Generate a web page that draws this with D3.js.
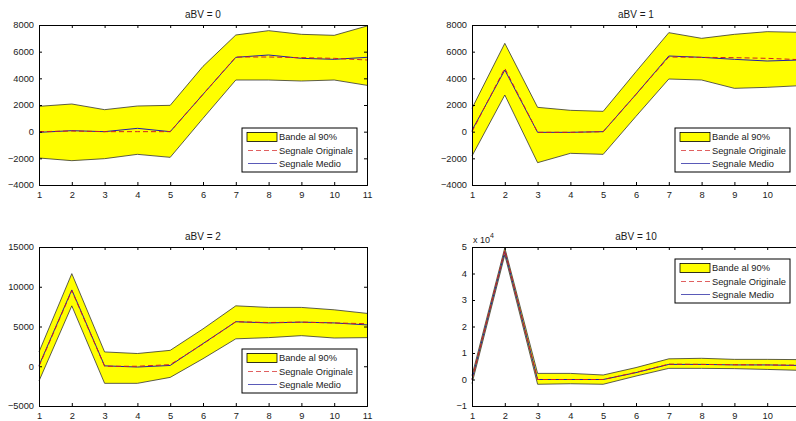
<!DOCTYPE html>
<html>
<head>
<meta charset="utf-8">
<script src="https://cdn.jsdelivr.net/npm/d3@7"></script>
<style>
  html, body { margin: 0; padding: 0; background: #fff; }
  svg { display: block; font-family: Arial, "Liberation Sans", Helvetica, sans-serif; }
</style>
</head>
<body>
<svg id="chart" width="796" height="421"></svg>
<script>
// ---- data ----
const xValues = [1, 2, 3, 4, 5, 6, 7, 8, 9, 10, 11];
const titles = ["aBV = 0", "aBV = 1", "aBV = 2", "aBV = 10"];
const legendLabels = ["Bande al 90%", "Segnale Originale", "Segnale Medio"];

const upper0 = [1900, 2075, 1650, 1925, 1975, 4900, 7250, 7575, 7300, 7225, 7925];
const mean0  = [-50, 75, 0, 250, 0, 2800, 5575, 5750, 5500, 5425, 5575];
const orig0  = [0, 50, 0, 0, 0, 2800, 5600, 5600, 5550, 5500, 5375];
const lower0 = [-1975, -2175, -2025, -1700, -1925, 1000, 3875, 3875, 3800, 3875, 3475];

const upper1 = [1750, 6625, 1825, 1600, 1525, 4500, 7425, 7000, 7300, 7500, 7450];
const mean1  = [100, 4625, -50, -50, 0, 2800, 5675, 5575, 5425, 5300, 5375];
const orig1  = [0, 4750, -50, -50, 0, 2800, 5600, 5575, 5550, 5500, 5400];
const lower1 = [-1825, 2750, -2325, -1625, -1700, 1150, 3950, 3875, 3250, 3325, 3450];

const upper2 = [1800, 11650, 1800, 1600, 2000, 4700, 7600, 7400, 7400, 7100, 6650];
const mean2  = [100, 9600, 50, -100, 100, 2850, 5600, 5450, 5550, 5450, 5200];
const orig2  = [0, 9500, 0, 0, 200, 2800, 5600, 5500, 5550, 5450, 5350];
const lower2 = [-1850, 7600, -2150, -2150, -1400, 950, 3450, 3600, 3850, 3550, 3600];

const upper10 = [1500, 49700, 2300, 2300, 1700, 4500, 7800, 8000, 7600, 7600, 7500];
const mean10  = [0, 48300, 0, 0, 0, 2600, 5700, 5700, 5500, 5500, 5300];
const orig10  = [0, 48800, 0, 0, 0, 2700, 5800, 5700, 5600, 5500, 5400];
const lower10 = [-1500, 47000, -1800, -1600, -1800, 1300, 4200, 4200, 4100, 3800, 3450];

const yTicksA = [-4000, -2000, 0, 2000, 4000, 6000, 8000];
const yTicksB = [-5000, 0, 5000, 10000, 15000];
const yTicksC = [-10000, 0, 10000, 20000, 30000, 40000, 50000];

// ---- layout ----
const panels = [
  {title: titles[0], up: upper0, mean: mean0, orig: orig0, low: lower0, ticks: yTicksA, dom: [-4000, 8000], left: 39, top: 25, h: 160, legendPos: "bottom", exp: false},
  {title: titles[1], up: upper1, mean: mean1, orig: orig1, low: lower1, ticks: yTicksA, dom: [-4000, 8000], left: 472, top: 25, h: 160, legendPos: "bottom", exp: false},
  {title: titles[2], up: upper2, mean: mean2, orig: orig2, low: lower2, ticks: yTicksB, dom: [-5000, 15000], left: 39, top: 247, h: 159, legendPos: "bottom", exp: false},
  {title: titles[3], up: upper10, mean: mean10, orig: orig10, low: lower10, ticks: yTicksC, dom: [-10000, 50000], left: 472, top: 247, h: 159, legendPos: "top", exp: true}
];
const W = 328;
const VIEW_W = 796;
const svg = d3.select("#chart");
svg.append("rect").attr("width", 796).attr("height", 421).attr("fill", "#fff");

const textColor = "#1a1a1a";
const bandColor = "#ffff00";
const origColor = "#d02020";
const meanColor = "#2020a8";

panels.forEach(p => {
  const g = svg.append("g").attr("transform", `translate(${p.left},${p.top})`);
  const x = d3.scaleLinear().domain([1, 11]).range([0, W]);
  const y = d3.scaleLinear().domain(p.dom).range([p.h, 0]);
  const pts = xValues.map((xv, i) => ({x: xv, up: p.up[i], low: p.low[i], mean: p.mean[i], orig: p.orig[i]}));

  // band
  g.append("path").datum(pts)
    .attr("d", d3.area().x(d => x(d.x)).y0(d => y(d.low)).y1(d => y(d.up)))
    .attr("fill", bandColor).attr("stroke", "none");
  g.append("path").datum(pts)
    .attr("d", d3.line().x(d => x(d.x)).y(d => y(d.up)))
    .attr("fill", "none").attr("stroke", "#333").attr("stroke-width", 0.8);
  g.append("path").datum(pts)
    .attr("d", d3.line().x(d => x(d.x)).y(d => y(d.low)))
    .attr("fill", "none").attr("stroke", "#333").attr("stroke-width", 0.8);
  // mean (solid) then original (dashed)
  g.append("path").datum(pts)
    .attr("d", d3.line().x(d => x(d.x)).y(d => y(d.mean)))
    .attr("fill", "none").attr("stroke", meanColor).attr("stroke-width", 1);
  g.append("path").datum(pts)
    .attr("d", d3.line().x(d => x(d.x)).y(d => y(d.orig)))
    .attr("fill", "none").attr("stroke", origColor).attr("stroke-width", 1)
    .attr("stroke-dasharray", "5,3");

  // axes (MATLAB box style, inward ticks)
  const tl = 3;
  const fmt = p.exp ? (d => d3.format("d")(d / 10000)) : d3.format("d");
  // labels whose position falls outside the window are not visible in the reference
  const xfmt = d => (p.left + x(d) + 4 > VIEW_W ? "" : d3.format("d")(d));
  const axB = d3.axisBottom(x).tickValues(xValues).tickSize(-tl).tickPadding(6).tickFormat(xfmt);
  const axT = d3.axisTop(x).tickValues(xValues).tickSize(-tl).tickFormat("");
  const axL = d3.axisLeft(y).tickValues(p.ticks).tickSize(-tl).tickPadding(5).tickFormat(fmt);
  const axR = d3.axisRight(y).tickValues(p.ticks).tickSize(-tl).tickFormat("");
  const style = sel => {
    sel.selectAll("path.domain").attr("stroke", "#000").attr("stroke-width", 1);
    sel.selectAll(".tick line").attr("stroke", "#000");
    sel.selectAll("text").attr("fill", textColor).attr("font-size", 9.3)
      .attr("font-family", "Arial, 'Liberation Sans', sans-serif");
  };
  g.append("g").attr("transform", `translate(0,${p.h})`).call(axB).call(style);
  g.append("g").call(axT).call(style);
  g.append("g").call(axL).call(style);
  g.append("g").attr("transform", `translate(${W},0)`).call(axR).call(style);

  // title
  g.append("text").attr("x", W / 2).attr("y", -7).attr("text-anchor", "middle")
    .attr("font-size", 10).attr("fill", textColor).text(p.title);

  if (p.exp) {
    const t = g.append("text").attr("x", 1).attr("y", -4).attr("font-size", 9).attr("fill", textColor);
    t.append("tspan").text("x 10");
    t.append("tspan").attr("dy", -5).attr("font-size", 7).text("4");
  }

  // legend
  const lw = 115, lh = 44;
  const lx = W - 10 - lw;
  const ly = p.legendPos === "bottom" ? p.h - 13 - lh : 12;
  const lg = g.append("g").attr("transform", `translate(${lx},${ly})`);
  lg.append("rect").attr("width", lw).attr("height", lh).attr("fill", "#fff").attr("stroke", "#000").attr("stroke-width", 1);
  const rows = [9, 22.5, 35.5];
  lg.append("rect").attr("x", 5).attr("y", rows[0] - 4.5).attr("width", 30).attr("height", 9)
    .attr("fill", bandColor).attr("stroke", "#000").attr("stroke-width", 0.8);
  lg.append("line").attr("x1", 6).attr("x2", 35).attr("y1", rows[1]).attr("y2", rows[1])
    .attr("stroke", "#e06060").attr("stroke-width", 1).attr("stroke-dasharray", "5,3");
  lg.append("line").attr("x1", 6).attr("x2", 35).attr("y1", rows[2]).attr("y2", rows[2])
    .attr("stroke", "#5a5ab8").attr("stroke-width", 1);
  legendLabels.forEach((lab, i) => {
    lg.append("text").attr("x", 37).attr("y", rows[i]).attr("dy", "0.35em")
      .attr("font-size", 9.3).attr("fill", textColor).text(lab);
  });
});
</script>
</body>
</html>
